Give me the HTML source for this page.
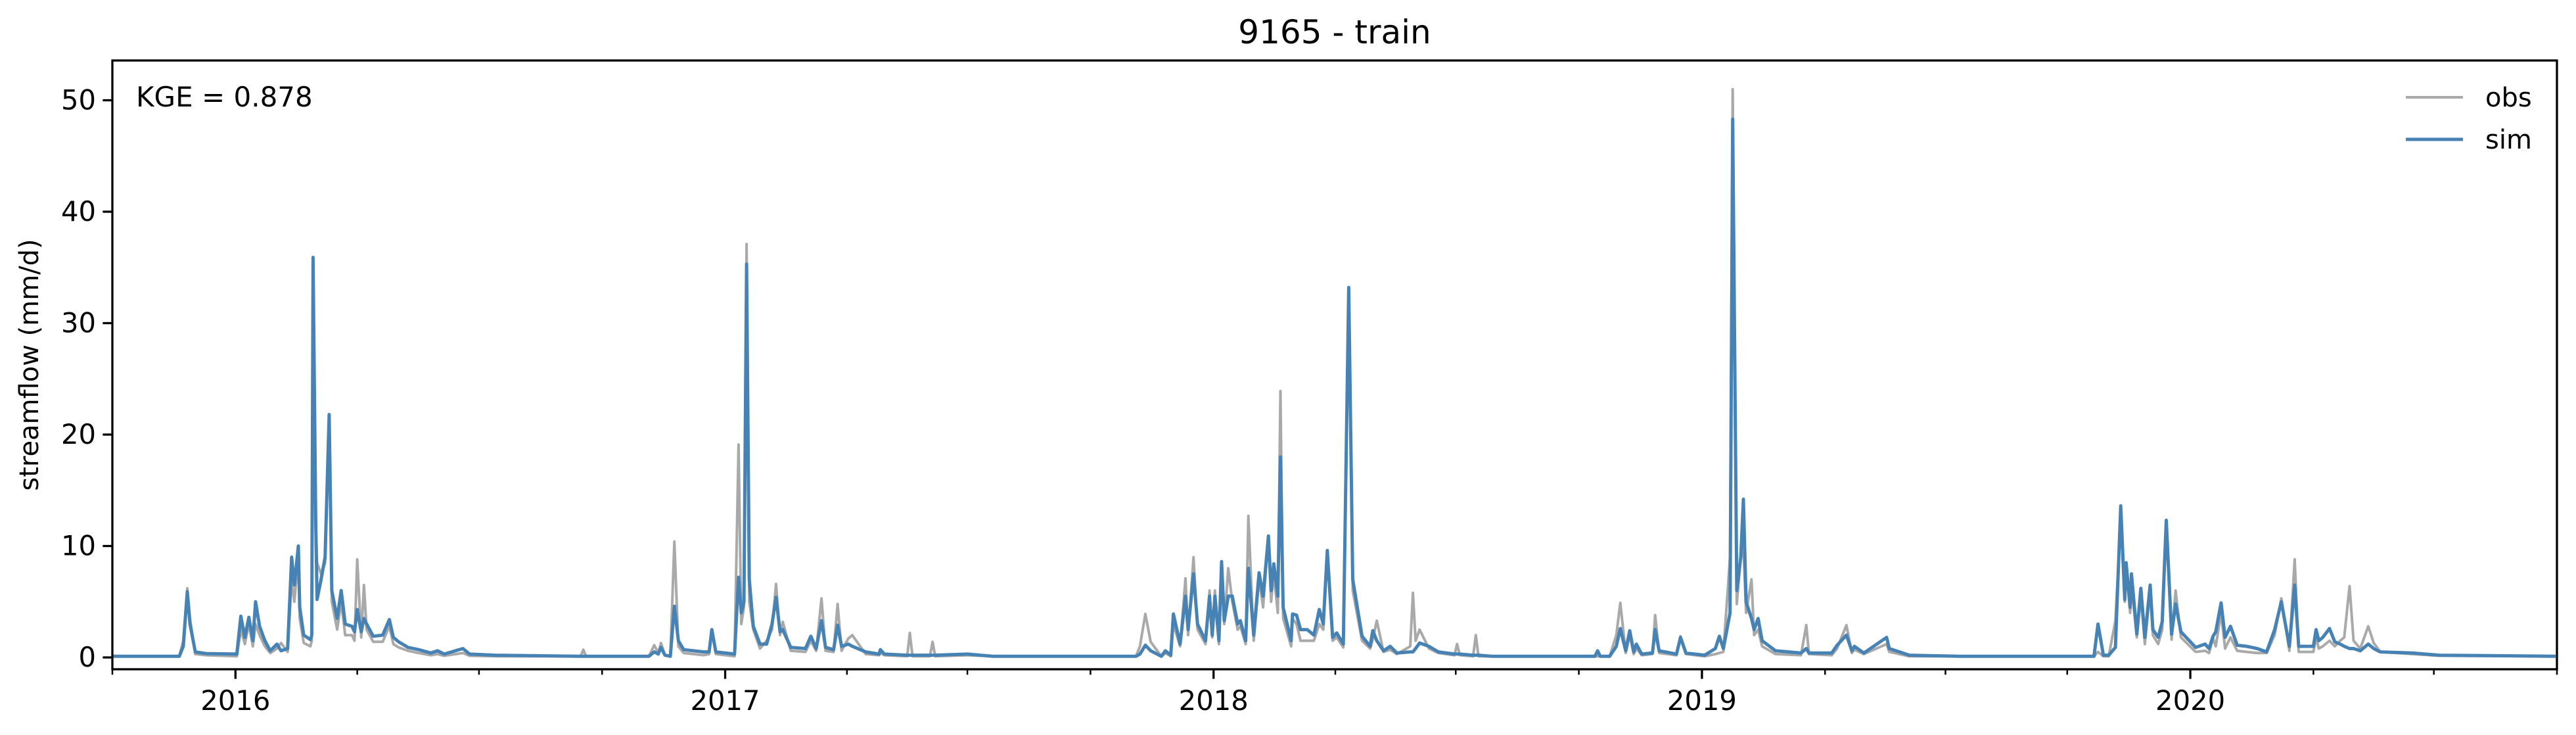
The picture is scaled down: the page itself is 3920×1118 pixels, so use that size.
<!DOCTYPE html>
<html><head><meta charset="utf-8"><style>
html,body{margin:0;padding:0;background:#fff;}
svg{display:block;font-family:"DejaVu Sans","Liberation Sans",sans-serif;}
</style></head><body>
<svg id="chart" width="3920" height="1118" viewBox="0 0 3920 1118">
<text x="2031" y="66" font-size="50" text-anchor="middle">9165 - train</text>
<g id="plot"></g>
<g id="axes"></g>
<text x="207" y="162" font-size="42">KGE = 0.878</text>
<g>
<line x1="3661" y1="148" x2="3748" y2="148" stroke="#a9a9a9" stroke-width="4"/>
<text x="3782" y="162" font-size="40">obs</text>
<line x1="3661" y1="212" x2="3748" y2="212" stroke="#4682b4" stroke-width="5"/>
<text x="3782" y="226" font-size="40">sim</text>
</g>
<text transform="translate(58,555) rotate(-90)" font-size="40" text-anchor="middle">streamflow (mm/d)</text>
</svg>
<script>
// days since 2015-10-01
const days = [
0,30,50,53,56,58,62,70,93,96,99,102,105,107,110,114,118,123,126,131,134,136,139,140,143,148,149,150,152,153,156,159,162,164,168,171,174,179,181,183,186,188,190,195,202,207,210,214,221,229,238,243,248,262,267,286,350,352,354,
372,401,405,408,410,413,417,420,423,427,442,446,448,451,465,468,470,472,474,476,479,484,489,493,496,499,501,507,518,522,526,530,533,539,542,545,550,553,563,573,574,577,594,596,598,611,613,615,639,658,746,
765,768,772,776,784,787,791,793,798,802,804,808,811,817,820,822,824,827,829,831,834,837,841,843,847,849,853,857,860,864,866,868,871,873,875,881,882,885,888,893,898,902,905,908,912,915,920,924,927,934,940,942,945,950,955,960,970,972,974,977,984,991,1003,1005,1007,1017,1019,1021,1031,1108,1110,1112,
1119,1124,1127,1131,1134,1137,1139,1143,1151,1153,1156,1169,1172,1176,1190,1198,1201,1204,1209,1211,1214,1217,1219,1221,1225,1227,1230,1233,1243,1262,1266,1268,1285,1289,1296,1300,1302,1309,1326,1328,1343,1381,1481,1484,1488,
1492,1497,1501,1504,1505,1508,1509,1513,1516,1519,1523,1525,1529,1532,1535,1539,1542,1546,1557,1564,1567,1570,1572,1576,1579,1583,1588,1595,1603,1610,1616,1621,1627,1631,1634,1645,1647,1649,1652,1657,1661,1665,1668,1672,1675,1680,1686,1690,1695,1719,1739,1826];
const sim = [
.1,.1,.1,1.0,5.9,3.0,.5,.35,.3,3.7,1.8,3.6,1.5,5.0,2.8,1.5,.6,1.2,.6,.8,9.0,6.5,10.0,4.5,2.0,1.6,2.0,35.9,12,5.2,7.0,9.0,21.8,6.0,3.5,6.0,3.0,2.8,2.3,4.3,2.3,3.5,3.0,1.9,2.0,3.4,1.8,1.4,.9,.7,.4,.6,.3,.8,.3,.2,.1,.1,.1,
.1,.1,.5,.3,.9,.2,.1,4.6,1.5,.7,.5,.5,2.5,.5,.3,7.2,4.0,5.0,35.3,7.0,2.8,1.2,1.2,3.0,5.4,2.3,2.5,.9,.8,1.9,.8,3.3,.9,.7,2.9,1.0,1.2,1.0,.5,.3,.7,.3,.2,.2,.2,.2,.2,.2,.3,.1,.1,
.1,.3,1.1,.6,.1,.6,.2,3.9,1.2,5.5,2.5,7.5,3.0,1.5,5.5,2.0,5.5,1.5,8.6,3.3,5.5,5.5,3.0,3.3,1.5,8.0,2.0,7.6,5.5,10.9,6.0,8.4,5.5,18.0,4.5,1.5,3.9,3.8,2.5,2.5,2.0,4.3,3.0,9.6,1.8,2.2,1.2,33.2,7.0,1.9,1.0,2.4,1.5,.6,1.0,.4,.5,.5,.8,1.3,1.0,.5,.3,.3,.3,.2,.2,.2,.1,.1,.6,.1,
.1,1.0,2.6,.6,2.4,.5,1.2,.3,.4,2.5,.6,.3,1.8,.4,.2,.8,1.9,.8,4.0,48.3,6.0,9.0,14.2,5.0,3.5,2.5,3.5,1.5,.6,.4,.8,.4,.4,1.1,2.0,.6,1.0,.4,1.8,.8,.2,.1,.1,3.0,.2,
.2,.9,13.6,5.2,8.5,4.5,7.5,2.1,6.2,1.8,6.5,2.5,1.8,3.2,12.3,2.1,4.8,2.3,.9,1.2,.8,1.9,2.3,4.9,1.8,2.8,1.1,1.0,.8,.5,2.5,5.0,1.0,6.5,1.0,1.0,2.5,1.5,1.8,2.6,1.4,1.2,1.0,.8,.8,.6,1.2,.8,.5,.4,.2,.1];
const obs = [
.1,.1,.1,1.5,6.2,3.5,.3,.2,.1,2.5,1.2,3.0,1.0,3.0,2.0,1.0,.4,.8,1.3,.5,7.0,5.0,9.0,3.5,1.3,1.0,1.5,35.0,12,8.5,7.5,8.5,21.0,5.0,2.5,5.0,2.0,2.0,1.5,8.8,1.8,6.5,2.5,1.4,1.4,2.8,1.2,.9,.6,.4,.2,.3,.15,.4,.15,.1,.1,.7,.1,
.1,.1,1.1,.4,1.3,.2,.1,10.4,1.0,.4,.2,.3,2.5,.3,.1,19.1,3.0,4.5,37.1,5.0,2.5,.8,1.5,2.5,6.6,2.0,3.2,.6,.5,1.5,.6,5.3,.6,.5,4.8,.6,1.7,2.0,.3,.2,.4,.2,.1,2.2,.1,.1,1.4,.1,.2,.1,.1,
.1,1.0,3.9,1.4,.1,.4,.1,3.0,1.0,7.1,2.0,9.0,2.5,1.2,6.0,1.8,6.0,1.2,8.5,3.0,8.0,5.0,2.5,2.8,1.2,12.7,1.5,7.0,4.5,10.9,5.0,7.5,4.0,23.9,3.5,1.0,3.5,3.0,1.5,1.5,1.5,3.0,2.5,9.3,1.5,1.8,.9,33.0,6.0,1.5,.8,1.6,3.3,.5,.7,.3,1.0,5.8,1.5,2.5,.8,.4,.2,1.2,.2,.1,2.0,.1,.1,.1,.1,.1,
.1,2.0,4.9,.4,2.0,.3,.8,.2,.3,3.8,.4,.2,1.9,.3,.1,.3,.4,.5,9.0,51.0,4.8,9.0,10.0,4.0,7.0,2.0,2.5,1.0,.3,.2,2.9,.3,.2,.8,2.9,.4,.7,.3,1.2,.5,.1,.1,.1,.5,.1,
.1,3.3,12.5,5.0,8.0,4.0,6.5,1.8,5.5,1.2,6.0,2.0,1.2,2.5,12.0,1.6,6.0,1.8,.5,.6,.4,1.7,1.0,4.0,.8,1.8,.6,.5,.4,.4,2.0,5.3,.6,8.8,.5,.5,1.8,.8,1.0,1.5,1.0,1.5,1.8,6.4,1.5,.8,2.8,1.3,.5,.3,.15,.1];
const yTicks = [0,10,20,30,40,50];
const xMajorLabels = ["2016","2017","2018","2019","2020"];
const xMajorDays = [92,458,823,1188,1553];
const xMinorDays = [183,274,366,549,639,731,914,1004,1096,1280,1370,1461,1645,1735,1827];

const L=171,R=3891,T=92,B=1018,D0=0,D1=1827,Y0=-1.06,Y1=53.57;
function xs(d){return L+(d-D0)/(D1-D0)*(R-L);}
function ys(v){return B-(v-Y0)/(Y1-Y0)*(B-T);}
const NS="http://www.w3.org/2000/svg";
function mk(tag,attrs,parent){const e=document.createElementNS(NS,tag);for(const k in attrs)e.setAttribute(k,attrs[k]);parent.appendChild(e);return e;}
const plot=document.getElementById('plot'), axes=document.getElementById('axes');
const clip=mk('clipPath',{id:'clp'},plot);mk('rect',{x:L,y:T,width:R-L,height:B-T},clip);
function path(vals){const n=Math.min(days.length,vals.length);let s='';for(let i=0;i<n;i++){s+=(i?'L':'M')+xs(days[i]).toFixed(1)+','+ys(vals[i]).toFixed(1);}return s;}
const po=mk('path',{d:path(obs),fill:'none',stroke:'#a9a9a9','stroke-width':4,'stroke-linejoin':'round','clip-path':'url(#clp)'},plot);


const ps=mk('path',{d:path(sim),fill:'none',stroke:'#4682b4','stroke-width':5,'stroke-linejoin':'round','clip-path':'url(#clp)'},plot);


const fr=mk('rect',{x:L,y:T,width:R-L,height:B-T,fill:'none',stroke:'#000','stroke-width':3.3},axes);


yTicks.forEach(v=>{const y=ys(v);
 const t=mk('line',{x1:L-14.6,x2:L,y1:y,y2:y,stroke:'#000','stroke-width':3.3},axes);
 
 
 const tx=mk('text',{x:L-25,y:y+14,'font-size':41.7,'text-anchor':'end'},axes);tx.textContent=v;
 
 
});
xMajorDays.forEach((d,i)=>{const x=xs(d);
 const t=mk('line',{x1:x,x2:x,y1:B,y2:B+14.6,stroke:'#000','stroke-width':3.3},axes);
 
 
 const tx=mk('text',{x:x,y:B+62,'font-size':41.7,'text-anchor':'middle'},axes);tx.textContent=xMajorLabels[i];
 
 
});
[0].concat(xMinorDays).forEach(d=>{const x=xs(d);
 const t=mk('line',{x1:x,x2:x,y1:B,y2:B+8.3,stroke:'#000','stroke-width':2.5},axes);
 
 
});
</script>
</body></html>
